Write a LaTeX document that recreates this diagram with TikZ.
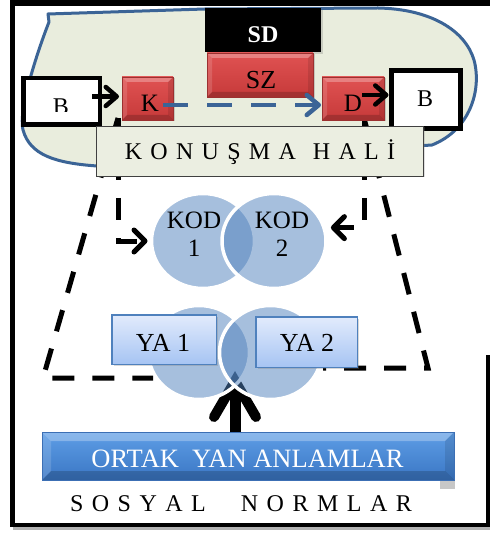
\documentclass[tikz,border=0pt]{standalone}
\usepackage{fontspec}
\setmainfont{Liberation Serif}
\usetikzlibrary{arrows.meta,shadows,shapes.geometric,calc}

\definecolor{blobfill}{HTML}{E9EDDD}
\definecolor{blobline}{HTML}{3B6496}
\definecolor{circblue}{HTML}{4F81BD}
\definecolor{redtop}{HTML}{E05252}
\definecolor{redbot}{HTML}{C63A3A}
\definecolor{redline}{HTML}{9C3030}
\definecolor{yatop}{HTML}{E2EBFC}
\definecolor{yabot}{HTML}{A6C4F3}
\definecolor{yaline}{HTML}{4F81BD}
\definecolor{ortop}{HTML}{5E9EE6}
\definecolor{orbot}{HTML}{3A76C4}
\definecolor{orline}{HTML}{3C6FB4}
\definecolor{konfill}{HTML}{EBEEE1}

\newcommand\fsz[1]{\fontsize{#1}{#1}\selectfont}

\begin{document}
\begin{tikzpicture}[x=1pt, y=-1pt,
  every node/.style={inner sep=0pt, outer sep=0pt},
  lbl/.style={anchor=base},
  bevel/.style={path picture={
    \fill[white, opacity=0.28] (path picture bounding box.north west) -- (path picture bounding box.north east)
      -- ($(path picture bounding box.north east)+(-#1,#1)$) -- ($(path picture bounding box.north west)+(#1,#1)$) -- cycle;
    \fill[white, opacity=0.14] (path picture bounding box.north west) -- (path picture bounding box.south west)
      -- ($(path picture bounding box.south west)+(#1,-#1)$) -- ($(path picture bounding box.north west)+(#1,#1)$) -- cycle;
    \fill[black, opacity=0.10] (path picture bounding box.north east) -- (path picture bounding box.south east)
      -- ($(path picture bounding box.south east)+(-#1,-#1)$) -- ($(path picture bounding box.north east)+(-#1,#1)$) -- cycle;
    \fill[black, opacity=0.18] (path picture bounding box.south west) -- (path picture bounding box.south east)
      -- ($(path picture bounding box.south east)+(-#1,-#1)$) -- ($(path picture bounding box.south west)+(#1,-#1)$) -- cycle;
  }},
  redbox/.style={rectangle, draw=redline, line width=0.8pt, top color=redtop, bottom color=redbot, bevel=5,
    drop shadow={shadow xshift=1.5pt, shadow yshift=-1.5pt, opacity=0.35}},
  bbox/.style={rectangle, draw=black, fill=white},
  yabox/.style={rectangle, draw=yaline, line width=1.5pt, top color=yatop, bottom color=yabot,
    drop shadow={shadow xshift=2pt, shadow yshift=-2pt, opacity=0.3}},
  circ/.style={ellipse, fill=circblue, fill opacity=0.5, draw=white, line width=3.5pt},
  kdash/.style={line width=5pt, dash pattern=on 22pt off 18pt},
  bdash/.style={draw=blobline, line width=4.5pt, dash pattern=on 25pt off 19pt},
  chev/.tip={Straight Barb[round, length=10pt, width=18pt]},
]
\fill[white] (0,0) rectangle (490,534);
\useasboundingbox (0,0) rectangle (490,534);

% speech area
\path[fill=blobfill, draw=blobline, line width=3pt, line join=round]
  (48,14) -- (205,9) -- (378,8) .. controls (430,9) and (465,30) .. (474,60)
  .. controls (482,90) and (470,130) .. (432,145) -- (97,166)
  .. controls (55,163) and (30,155) .. (23,130)
  .. controls (18,110) and (38,50) .. (49,22) -- cycle;

% outer frame
\fill[black] (9.5,0) rectangle (490,6.5);
\fill[black] (9.5,0) rectangle (14.5,527);
\fill[black] (9.5,522.5) rectangle (490,527);
\fill[black] (485.5,355) rectangle (490,527);
\fill[black!30] (13,527) rectangle (490,530);

% social norms panel and shared connotations bar
\fill[black, opacity=0.22] (44,440) rectangle (455,489);
\node[fill=white, minimum width=400pt, minimum height=41pt] (SN) at (240,500.5) {};
\node[draw=orline, line width=0.6pt, top color=ortop, bottom color=orbot, bevel=9,
      minimum width=412pt, minimum height=48pt] (OR) at (248,456) {};

% upward arrow into the overlap
\coordinate (up) at (235,381);
\draw[line width=11pt] (OR.north -| up) -- (up);
\draw[line width=10pt, line cap=round, line join=miter]
  ($(up)+(-21,36)$) -- (up) -- ($(up)+(21,36)$);

% code and connotation circles
\node[circ, minimum width=103pt, minimum height=95pt] (kod1) at (203,241) {};
\node[circ, minimum width=104pt, minimum height=95pt] (kod2) at (274,241) {};
\node[circ, minimum width=101pt, minimum height=94pt] (ya1c) at (199,352.5) {};
\node[circ, minimum width=102pt, minimum height=94pt] (ya2c) at (270.5,352.5) {};

% dashed funnel lines
\coordinate (ls) at (118,118);
\coordinate (lc) at (43,378);
\coordinate (le) at (153,378);
\coordinate (rs) at (364,118);
\coordinate (rc) at (428,368);
\coordinate (re) at (323,368);
\draw[kdash] (ls) -- (lc) -- (le);
\draw[kdash] (rs) -- (rc) -- (re);
\draw[kdash, -{chev[length=11pt, width=22pt]}] (ls) |- ($(kod1.west)+(-4,0)$);
\draw[kdash, -{chev[length=11pt, width=22pt]}] (rs) |- ($(kod2.15)+(7,0)$);

% top boxes
\node[fill=black, minimum width=116pt, minimum height=44pt,
      drop shadow={shadow xshift=2pt, shadow yshift=-2pt, opacity=0.3}] (SD) at (263,30) {};
\node[lbl, font=\fsz{24}\bfseries, text=white] (SDl) at (263,42.5) {SD};
\node[redbox, minimum width=106pt, minimum height=44pt] (SZ) at (260,75) {};
\node[lbl, font=\fsz{26}] (SZl) at (261,88.5) {SZ};
\node[redbox, minimum width=51pt, minimum height=43pt] (K) at (147.5,98.5) {};
\node[lbl, font=\fsz{25}] (Kl) at (150,112) {K};
\node[redbox, minimum width=62pt, minimum height=43pt] (D) at (353,98.5) {};
\node[lbl, font=\fsz{25}] (Dl) at (353,112) {D};

\node[bbox, line width=4.5pt, minimum width=76.5pt, minimum height=46.5pt] (Bl) at (61.5,101.5) {};
\begin{scope}
  \clip (21,76) rectangle (102,112);
  \node[lbl, font=\fsz{24}] (Bll) at (61,115) {B};
\end{scope}
\node[bbox, line width=5pt, minimum width=69pt, minimum height=58pt] (Br) at (426,99.5) {};
\node[lbl, font=\fsz{24}] (Brl) at (425,107) {B};

% arrows between the top boxes
\coordinate (bk) at (92,96.5);
\draw[line width=4.5pt, -{chev[length=11pt, width=19pt]}, shorten >=3pt] (bk) -- (K.west |- bk);
\coordinate (dk) at (362,95);
\draw[line width=4.5pt, -{chev[length=11pt, width=19pt]}, shorten >=3pt] (dk) -- (Br.west |- dk);
\coordinate (bs) at (163,105);
\draw[bdash, -{chev[length=12pt, width=20pt]}, shorten >=1pt] (bs) -- (D.west |- bs);

% speech state bar
\node[draw=black!75, line width=0.8pt, fill=konfill, minimum width=327pt, minimum height=50pt,
      drop shadow={shadow xshift=1pt, shadow yshift=-1pt, opacity=0.25}] (KH) at (260,151.5) {};
\node[lbl, font=\fsz{24}] (KHl) at (260,159.5)
  {K\kern8.3pt O\kern8.3pt N\kern8.3pt U\kern8.3pt Ş\kern8.3pt M\kern8.3pt A\kern17pt H\kern8.3pt A\kern8.3pt L\kern8.3pt İ};

% circle labels
\node[lbl, font=\fsz{25}] (k1a) at (194,228.5) {KOD};
\node[lbl, font=\fsz{25}] (k1b) at (194,256.5) {1};
\node[lbl, font=\fsz{25}] (k2a) at (282,228.5) {KOD};
\node[lbl, font=\fsz{25}] (k2b) at (282,256.5) {2};

% connotation boxes
\node[yabox, minimum width=104.5pt, minimum height=49.5pt] (YA1) at (164,339.5) {};
\node[lbl, font=\fsz{26}] (YA1l) at (163,351) {YA 1};
\node[yabox, minimum width=101.5pt, minimum height=50.5pt] (YA2) at (306.5,342) {};
\node[lbl, font=\fsz{26}] (YA2l) at (307,351.5) {YA 2};

% bottom texts
\node[lbl, font=\fsz{26.5}, text=white] (ORl) at (247.5,467) {ORTAK\ \ YAN ANLAMLAR};
\node[lbl, font=\fsz{24}] (SNl) at (241,511)
  {S\kern8.5pt O\kern8.5pt S\kern8.5pt Y\kern8.5pt A\kern8.5pt L\kern35pt N\kern8.5pt O\kern8.5pt R\kern8.5pt M\kern8.5pt L\kern8.5pt A\kern8.5pt R};
\end{tikzpicture}
\end{document}
